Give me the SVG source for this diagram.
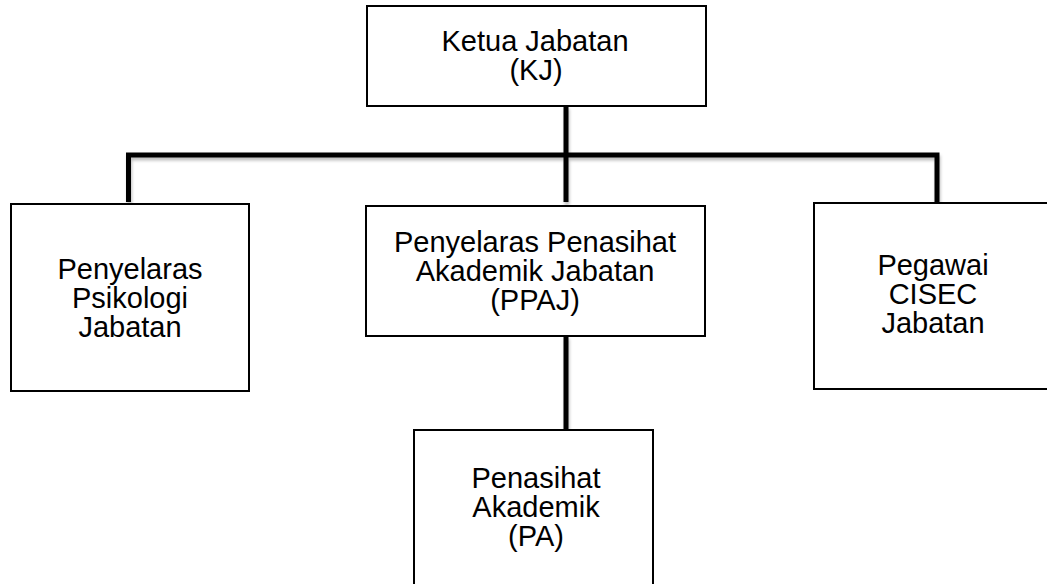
<svg xmlns="http://www.w3.org/2000/svg" width="1047" height="584" viewBox="0 0 1047 584">
<style>
.box{fill:#fff;stroke:#000;stroke-width:2}
.t{font-family:"Liberation Sans",Arial,sans-serif;font-size:29px;fill:#000;text-anchor:middle}
.c{fill:none;stroke:#000;stroke-width:5;stroke-linecap:butt;stroke-linejoin:miter}
</style>
<defs>
<filter id="sh" x="-5%" y="-5%" width="110%" height="120%">
<feDropShadow dx="1" dy="3" stdDeviation="1.5" flood-color="#000" flood-opacity="0.25"/>
</filter>
</defs>
<rect width="1047" height="584" fill="#fff"/>
<g id="connectors" filter="url(#sh)">
<path class="c" d="M566,106 V202"/>
<path class="c" d="M128.5,202 V155 H937 V202"/>
<path class="c" d="M566,336 V430"/>
</g>
<g id="kj">
<rect class="box" x="367" y="6" width="339" height="100"/>
<text class="t" x="535" y="51">Ketua Jabatan</text>
<text class="t" x="536" y="80">(KJ)</text>
</g>
<g id="psikologi">
<rect class="box" x="11" y="204" width="238" height="187"/>
<text class="t" x="130" y="279">Penyelaras</text>
<text class="t" x="130" y="308">Psikologi</text>
<text class="t" x="130" y="337">Jabatan</text>
</g>
<g id="ppaj">
<rect class="box" x="366" y="206" width="339" height="130"/>
<text class="t" x="535" y="252">Penyelaras Penasihat</text>
<text class="t" x="535" y="281">Akademik Jabatan</text>
<text class="t" x="535" y="310">(PPAJ)</text>
</g>
<g id="cisec">
<rect class="box" x="814" y="203" width="250" height="186"/>
<text class="t" x="933" y="275">Pegawai</text>
<text class="t" x="933" y="304">CISEC</text>
<text class="t" x="933" y="333">Jabatan</text>
</g>
<g id="pa">
<rect class="box" x="414" y="430" width="239" height="170"/>
<text class="t" x="536" y="488">Penasihat</text>
<text class="t" x="536" y="517">Akademik</text>
<text class="t" x="536" y="546">(PA)</text>
</g>
</svg>
